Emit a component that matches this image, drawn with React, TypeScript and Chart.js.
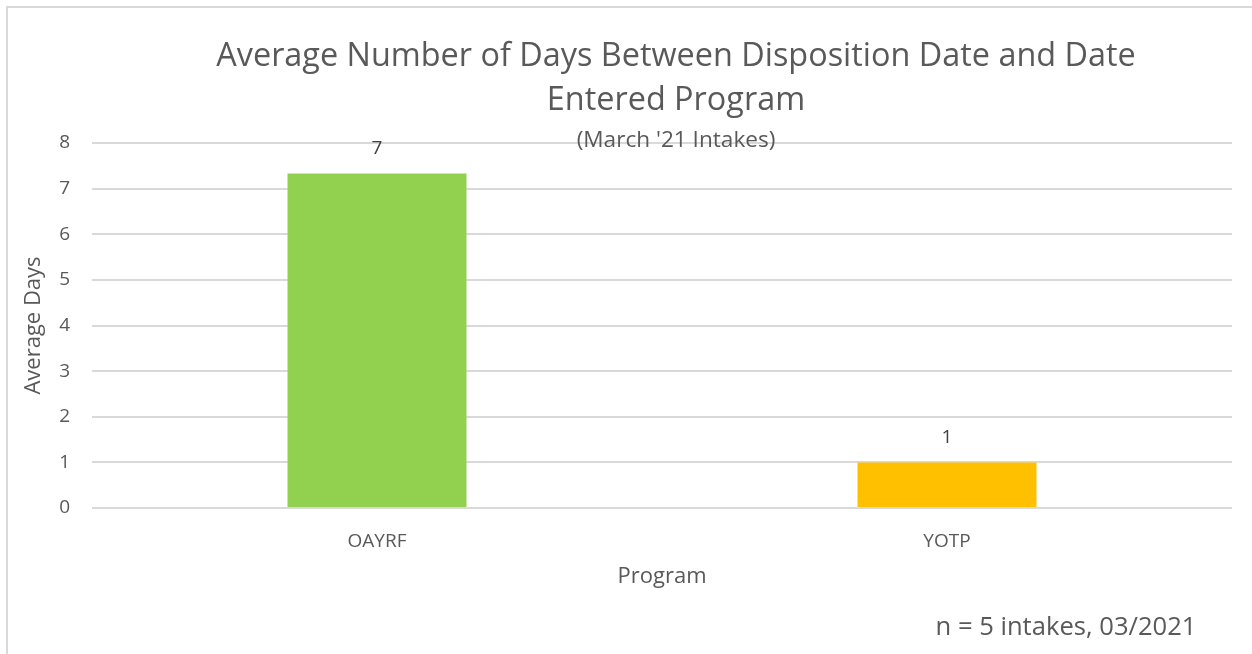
import React, { useEffect, useRef } from "react";
import { Chart, registerables } from "chart.js";

Chart.register(...registerables);

const categories = ["OAYRF", "YOTP"];
const averageDays = [7.33, 1.0];
const barColors = ["#92D050", "#FFC000"];
const yMin = 0;
const yMax = 8;
const titleLines = ["Average Number of Days Between Disposition Date and Date", "Entered Program"];
const subtitle = "(March '21 Intakes)";
const footnote = "n = 5 intakes, 03/2021";
const yAxisTitle = "Average Days";
const xAxisTitle = "Program";

const FONT = "'Open Sans', 'Liberation Sans', sans-serif";
const TEXT = "#595959";

const decorPlugin = {
  id: "decor",
  beforeDraw(chart: any) {
    const ctx = chart.ctx;
    ctx.save();
    ctx.fillStyle = "#ffffff";
    ctx.fillRect(0, 0, chart.width, chart.height);
    ctx.strokeStyle = "#D9D9D9";
    ctx.lineWidth = 2;
    ctx.beginPath();
    ctx.moveTo(7, chart.height);
    ctx.lineTo(7, 7);
    ctx.lineTo(chart.width, 7);
    ctx.stroke();
    ctx.restore();
  },
  afterDraw(chart: any) {
    const ctx = chart.ctx;
    ctx.save();
    ctx.fillStyle = TEXT;
    ctx.textAlign = "center";
    ctx.textBaseline = "middle";
    ctx.font = `32.4px ${FONT}`;
    ctx.fillText(titleLines[0], 676, 57);
    ctx.fillText(titleLines[1], 676, 101);
    ctx.font = `22.6px ${FONT}`;
    ctx.fillText(subtitle, 676, 141);
    ctx.font = `25.6px ${FONT}`;
    ctx.fillText(footnote, 1066, 628);
    const meta = chart.getDatasetMeta(0);
    ctx.fillStyle = "#404040";
    ctx.font = `19px ${FONT}`;
    meta.data.forEach((el: any, i: number) => {
      ctx.fillText(String(Math.round(averageDays[i])), el.x, el.y - 25);
    });
    ctx.restore();
  },
};

export default function App() {
  const canvasRef = useRef<HTMLCanvasElement | null>(null);

  useEffect(() => {
    if (!canvasRef.current) return;
    const chart = new Chart(canvasRef.current, {
      type: "bar",
      data: {
        labels: categories,
        datasets: [
          {
            data: averageDays,
            backgroundColor: barColors,
            borderWidth: 0,
            barPercentage: 0.314,
            categoryPercentage: 1,
          },
        ],
      },
      options: {
        animation: false,
        responsive: true,
        maintainAspectRatio: false,
        layout: { padding: { top: 143, right: 20, bottom: 46, left: 0 } },
        plugins: {
          legend: { display: false },
          tooltip: { enabled: false },
          title: { display: false },
        },
        scales: {
          x: {
            grid: { display: false },
            border: { display: false },
            ticks: { color: TEXT, font: { family: FONT, size: 19 }, padding: 14 },
            title: {
              display: true,
              text: xAxisTitle,
              color: TEXT,
              font: { family: FONT, size: 22 },
              padding: { top: 0, bottom: 18 },
            },
            afterFit(scale: any) {
              scale.height = 100;
            },
          },
          y: {
            min: yMin,
            max: yMax,
            grid: { color: "#D9D9D9", lineWidth: 2, drawTicks: false },
            border: { display: false },
            ticks: { stepSize: 1, color: TEXT, font: { family: FONT, size: 19 }, padding: 22 },
            title: {
              display: true,
              text: yAxisTitle,
              color: TEXT,
              font: { family: FONT, size: 22 },
              padding: { top: 21, bottom: 0 },
            },
            afterFit(scale: any) {
              scale.width = 92;
            },
          },
        },
      },
      plugins: [decorPlugin],
    });
    return () => chart.destroy();
  }, []);

  return (
    <div style={{ position: "fixed", left: 0, top: 0, width: 1252, height: 654 }}>
      <canvas ref={canvasRef} />
    </div>
  );
}
